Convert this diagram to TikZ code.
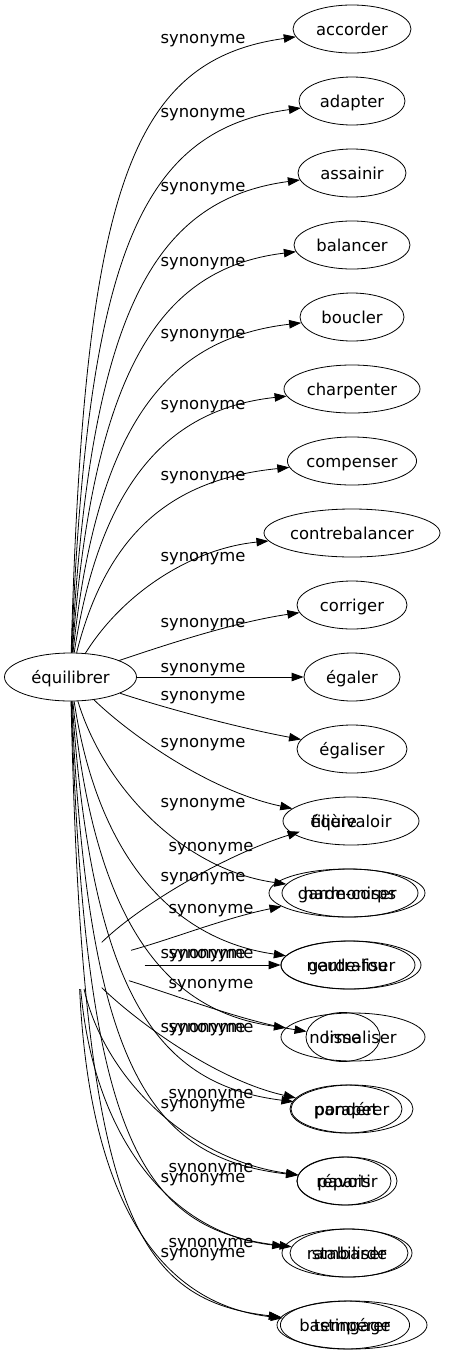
\documentclass[tikz,border=0pt]{standalone}
\usepackage{fontspec}
\setmainfont{DejaVu Sans}
\usetikzlibrary{arrows.meta,shapes.geometric}
\begin{document}
\begin{tikzpicture}[x=1pt,y=-1pt,
  every node/.style={font=\fontsize{16.4}{19}\selectfont},
  word/.style={ellipse, draw, line width=0.8pt, inner sep=0pt, minimum height=48pt, text height=13pt, text depth=1pt},
  ghost/.style={ellipse, inner sep=0pt, minimum height=48pt, text height=13pt, text depth=1pt},
  lbl/.style={anchor=base, inner sep=0pt},
  edge/.style={draw, line width=0.8pt, -{Triangle[length=12pt,width=8.5pt]}},
]
\useasboundingbox (0,0) rectangle (448,1355);
% first graph
\node[word, minimum width=132pt] (eq) at (70.5,677) {équilibrer};
\node[word, minimum width=118pt] (n1) at (352,29) {accorder};
\node[word, minimum width=106pt] (n2) at (352,101) {adapter};
\node[word, minimum width=108pt] (n3) at (352,173) {assainir};
\node[word, minimum width=116pt] (n4) at (352,245) {balancer};
\node[word, minimum width=104pt] (n5) at (352,317) {boucler};
\node[word, minimum width=136pt] (n6) at (352,389) {charpenter};
\node[word, minimum width=128pt] (n7) at (352,461) {compenser};
\node[word, minimum width=176pt] (n8) at (352,533) {contrebalancer};
\node[word, minimum width=110pt] (n9) at (352,605) {corriger};
\node[word, minimum width=96pt] (n10) at (352,677) {égaler};
\node[word, minimum width=110pt] (n11) at (352,749) {égaliser};
\node[word, minimum width=136pt] (n12) at (351,821) {équivaloir};
\node[word, minimum width=136pt] (n13) at (350,893) {harmoniser};
\node[word, minimum width=140pt] (n14) at (351,965) {neutraliser};
\node[word, minimum width=144pt] (n15) at (353,1037) {normaliser};
\node[word, minimum width=122pt] (n16) at (352,1109) {pondérer};
\node[word, minimum width=100pt] (n17) at (347,1181) {répartir};
\node[word, minimum width=118pt] (n18) at (349,1253) {stabiliser};
\node[word, minimum width=150pt] (n19) at (352,1325) {tempérer};
% second graph
\node[ghost, minimum width=132pt] (src) at (78.5,965) {};
\node[ghost, minimum width=76pt] (m1) at (334,821) {filière};
\node[word, minimum width=156pt] (m2) at (347,893) {garde-corps};
\node[word, minimum width=134pt] (m3) at (348,965) {garde-fou};
\node[word, minimum width=74pt, minimum height=49pt] (m4) at (343,1037) {lisse};
\node[word, minimum width=112pt] (m5) at (346,1109) {parapet};
\node[word, minimum width=94pt] (m6) at (344,1181) {pavois};
\node[word, minimum width=130pt] (m7) at (347,1253) {rambarde};
\node[word, minimum width=128pt] (m8) at (345,1325) {bastingage};
% first graph edges
\draw[edge] (eq) .. controls (84,190) and (130,60) .. (n1);
\draw[edge] (eq) .. controls (87,255) and (140,130) .. (n2);
\draw[edge] (eq) .. controls (90,320) and (150,200) .. (n3);
\draw[edge] (eq) .. controls (93,370) and (160,268) .. (n4);
\draw[edge] (eq) .. controls (97,420) and (170,338) .. (n5);
\draw[edge] (eq) .. controls (102,470) and (178,408) .. (n6);
\draw[edge] (eq) .. controls (110,520) and (185,478) .. (n7);
\draw[edge] (eq) .. controls (125,590) and (195,548) .. (n8);
\draw[edge] (eq) .. controls (165,645) and (235,622) .. (n9);
\draw[edge] (eq) -- (n10);
\draw[edge] (eq) .. controls (165,708) and (235,727) .. (n11);
\draw[edge] (eq) .. controls (125,730) and (205,790) .. (n12);
\draw[edge] (eq) .. controls (105,790) and (185,870) .. (n13);
\draw[edge] (eq) .. controls (98,860) and (175,940) .. (n14);
\draw[edge] (eq) .. controls (95,930) and (170,1012) .. (n15);
\draw[edge] (eq) .. controls (92,1000) and (160,1085) .. (n16);
\draw[edge] (eq) .. controls (88,1070) and (150,1158) .. (n17);
\draw[edge] (eq) .. controls (85,1140) and (140,1230) .. (n18);
\draw[edge] (eq) .. controls (82,1200) and (130,1300) .. (n19);
% second graph edges
\draw[edge] (src) .. controls (140,905) and (225,855) .. (m1);
\draw[edge] (src) .. controls (175,938) and (225,918) .. (m2);
\draw[edge] (src) -- (m3);
\draw[edge] (src) .. controls (175,995) and (245,1022) .. (m4);
\draw[edge] (src) .. controls (135,1020) and (215,1080) .. (m5);
\draw[edge] (src) .. controls (105,1080) and (190,1160) .. (m6);
\draw[edge] (src) .. controls (95,1150) and (180,1235) .. (m7);
\draw[edge] (src) .. controls (90,1210) and (165,1305) .. (m8);
% labels first graph
\node[lbl] (l1) at (203,43) {synonyme};
\node[lbl] (l2) at (203,117) {synonyme};
\node[lbl] (l3) at (203,191) {synonyme};
\node[lbl] (l4) at (203,266) {synonyme};
\node[lbl] (l5) at (203,338) {synonyme};
\node[lbl] (l6) at (203,409) {synonyme};
\node[lbl] (l7) at (203,480) {synonyme};
\node[lbl] (l8) at (203,561) {synonyme};
\node[lbl] (l9) at (203,627) {synonyme};
\node[lbl] (l10) at (203,672) {synonyme};
\node[lbl] (l19) at (203,700) {synonyme};
\node[lbl] (l11) at (203,747) {synonyme};
\node[lbl] (l12) at (203,807) {synonyme};
\node[lbl] (l13) at (203,881) {synonyme};
\node[lbl] (l14) at (203,958) {synonyme};
\node[lbl] (l15) at (203,1032) {synonyme};
\node[lbl] (l16) at (203,1108) {synonyme};
\node[lbl] (l17) at (203,1182) {synonyme};
\node[lbl] (l18) at (203,1257) {synonyme};
% labels second graph
\node[lbl] (k1) at (211,851) {synonyme};
\node[lbl] (k2) at (211,913) {synonyme};
\node[lbl] (k3) at (211,958) {synonyme};
\node[lbl] (k8) at (211,988) {synonyme};
\node[lbl] (k4) at (211,1032) {synonyme};
\node[lbl] (k5) at (211,1098) {synonyme};
\node[lbl] (k6) at (211,1172) {synonyme};
\node[lbl] (k7) at (211,1247) {synonyme};
\end{tikzpicture}
\end{document}
